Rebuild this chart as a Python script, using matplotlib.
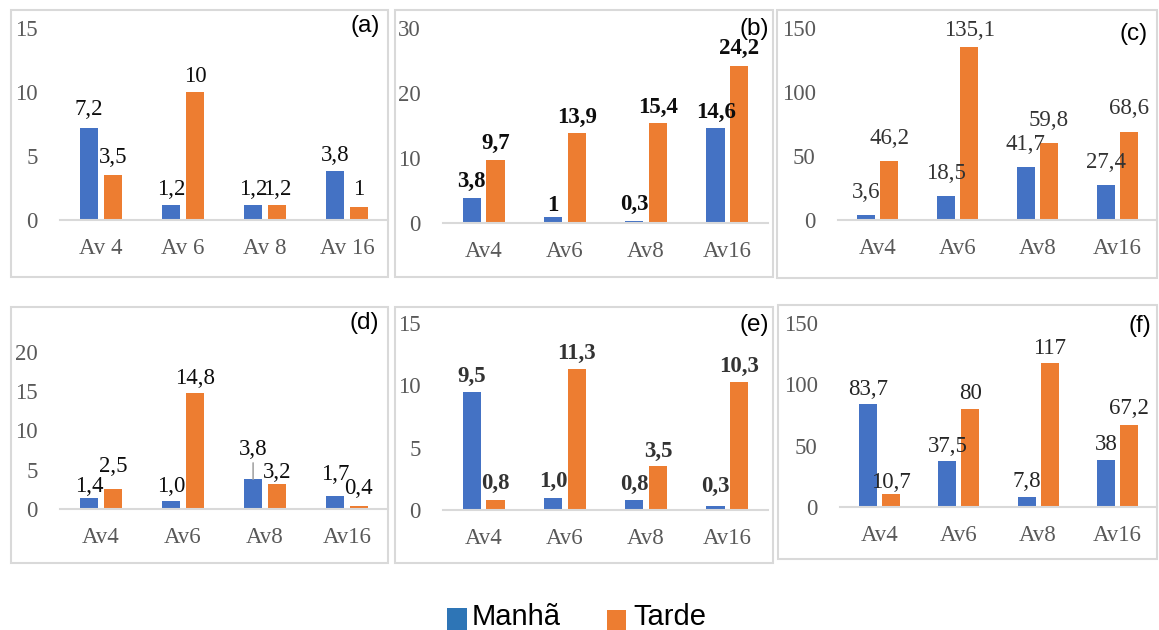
import matplotlib
matplotlib.use("Agg")
import matplotlib.pyplot as plt
from matplotlib.patches import Rectangle

# ---- data (labels as printed; bar heights are parsed from them) ----
categories_a = ["Av 4", "Av 6", "Av 8", "Av 16"]
categories = ["Av4", "Av6", "Av8", "Av16"]

manha_a = ["7,2", "1,2", "1,2", "3,8"]
tarde_a = ["3,5", "10", "1,2", "1"]
manha_b = ["3,8", "1", "0,3", "14,6"]
tarde_b = ["9,7", "13,9", "15,4", "24,2"]
manha_c = ["3,6", "18,5", "41,7", "27,4"]
tarde_c = ["46,2", "135,1", "59,8", "68,6"]
manha_d = ["1,4", "1,0", "3,8", "1,7"]
tarde_d = ["2,5", "14,8", "3,2", "0,4"]
manha_e = ["9,5", "1,0", "0,8", "0,3"]
tarde_e = ["0,8", "11,3", "3,5", "10,3"]
manha_f = ["83,7", "37,5", "7,8", "38"]
tarde_f = ["10,7", "80", "117", "67,2"]

yticks_a = [0, 5, 10, 15]
yticks_b = [0, 10, 20, 30]
yticks_c = [0, 50, 100, 150]
yticks_d = [0, 5, 10, 15, 20]
yticks_e = [0, 5, 10, 15]
yticks_f = [0, 50, 100, 150]

series_names = ["Manhã", "Tarde"]

# ---- style ----
W, H = 1159, 630
BLUE = "#4472C4"
ORANGE = "#ED7D31"
LEG_BLUE = "#2E75B6"
GRID_GREY = "#D9D9D9"
TICK_GREY = "#595959"
SERIF = ["Liberation Serif", "DejaVu Serif"]
SANS = ["Liberation Sans", "DejaVu Sans"]

fig = plt.figure(figsize=(W / 100, H / 100), dpi=100)


def px_box(x0, y0, x1, y1):
    """Pixel box (top-left origin) -> figure fraction rect."""
    return [x0 / W, 1 - y1 / H, (x1 - x0) / W, (y1 - y0) / H]


def to_num(s):
    return float(s.replace(",", "."))


# panel layout: frame box, axes box, tag and its centre, label styling
panels = [
    dict(frame=(11, 10, 388, 277), axes=(60, 28, 388, 220), tag="(a)", tagpos=(365, 26),
         cats=categories_a, m=manha_a, t=tarde_a, yt=yticks_a,
         weight="normal", lcolor="#0D0D0D",
         lift=([13, 10, 10, 10], [12, 10, 10, 12])),
    dict(frame=(395, 10, 773, 277), axes=(443, 28, 768, 223), tag="(b)", tagpos=(754, 29),
         cats=categories, m=manha_b, t=tarde_b, yt=yticks_b,
         weight="bold", lcolor="#0D0D0D",
         lift=([11, 6, 11, 10], [11, 10, 10, 12])),
    dict(frame=(777, 10, 1157, 278), axes=(838, 28, 1157, 220), tag="(c)", tagpos=(1134, 34),
         cats=categories, m=manha_c, t=tarde_c, yt=yticks_c,
         weight="normal", lcolor="#333333",
         lift=([17, 17, 17, 17], [17, 11, 17, 18])),
    dict(frame=(11, 307, 388, 563), axes=(60, 352, 388, 509), tag="(d)", tagpos=(364, 323),
         cats=categories, m=manha_d, t=tarde_d, yt=yticks_d,
         weight="normal", lcolor="#0D0D0D",
         lift=([6, 9, 24, 16], [17, 9, 6, 12])),
    dict(frame=(395, 307, 773, 563), axes=(443, 323, 768, 510), tag="(e)", tagpos=(754, 325),
         cats=categories, m=manha_e, t=tarde_e, yt=yticks_e,
         weight="bold", lcolor="#333333",
         lift=([10, 11, 10, 14], [11, 10, 9, 10])),
    dict(frame=(778, 305, 1157, 559), axes=(840, 323, 1157, 507), tag="(f)", tagpos=(1140, 326),
         cats=categories, m=manha_f, t=tarde_f, yt=yticks_f,
         weight="normal", lcolor="#262626",
         lift=([9, 9, 10, 10], [6, 10, 9, 11])),
]

BAR_W = 0.225
OFF = 0.145
PX2PT = 72 / 100

for p in panels:
    # chart-area frame
    x0, y0, x1, y1 = p["frame"]
    fig.patches.append(Rectangle((x0 / W, 1 - y1 / H), (x1 - x0) / W, (y1 - y0) / H,
                                 transform=fig.transFigure, fill=False,
                                 edgecolor=GRID_GREY, linewidth=1.5))

    ax = fig.add_axes(px_box(*p["axes"]))
    xs = list(range(len(p["cats"])))
    mv = [to_num(s) for s in p["m"]]
    tv = [to_num(s) for s in p["t"]]
    ax.bar([x - OFF for x in xs], mv, width=BAR_W, color=BLUE, zorder=2)
    ax.bar([x + OFF for x in xs], tv, width=BAR_W, color=ORANGE, zorder=2)

    for series, vals, sgn, lifts in ((p["m"], mv, -1, p["lift"][0]),
                                      (p["t"], tv, 1, p["lift"][1])):
        for i, (lab, v) in enumerate(zip(series, vals)):
            lift = lifts[i]
            kw = {}
            if lift >= 20:
                kw["arrowprops"] = dict(arrowstyle="-", color="#A6A6A6", lw=1.2,
                                        shrinkA=0, shrinkB=0,
                                        relpos=(0.5, 0.0))
            ax.annotate(lab, xy=(i + sgn * OFF, v), xytext=(0, lift * PX2PT),
                        textcoords="offset points", ha="center", va="baseline",
                        fontsize=16.5, family=SERIF, color=p["lcolor"],
                        fontweight=p["weight"], **kw)

    ax.set_xlim(-0.5, len(xs) - 0.5)
    ax.set_ylim(p["yt"][0], p["yt"][-1])
    ax.set_yticks(p["yt"])
    ax.set_xticks(xs)
    ax.set_xticklabels(p["cats"])
    for lab in ax.get_xticklabels() + ax.get_yticklabels():
        lab.set_family(SERIF)
        lab.set_fontsize(16.5)
        lab.set_color(TICK_GREY)
    ax.tick_params(axis="y", length=0, pad=16)
    ax.tick_params(axis="x", length=0, pad=13)
    for side in ("left", "right", "top"):
        ax.spines[side].set_visible(False)
    ax.spines["bottom"].set_color(GRID_GREY)
    ax.spines["bottom"].set_linewidth(1.5)
    ax.patch.set_alpha(0)

    tx, ty = p["tagpos"]
    fig.text(tx / W, 1 - ty / H, p["tag"], ha="center", va="center",
             fontsize=17.5, family=SANS, color="black")

# legend along the bottom edge
legend_items = [(series_names[0], LEG_BLUE, (447, 608, 467, 632), 472),
                (series_names[1], ORANGE, (607, 610, 626, 632), 633)]
for name, col, (a0, b0, a1, b1), tx in legend_items:
    fig.patches.append(Rectangle((a0 / W, 1 - b1 / H), (a1 - a0) / W, (b1 - b0) / H,
                                 transform=fig.transFigure, color=col, linewidth=0))
    fig.text(tx / W, 1 - 625 / H, name, ha="left", va="baseline",
             fontsize=21, family=SANS, color="black")

fig.savefig("out.png", dpi=100)
